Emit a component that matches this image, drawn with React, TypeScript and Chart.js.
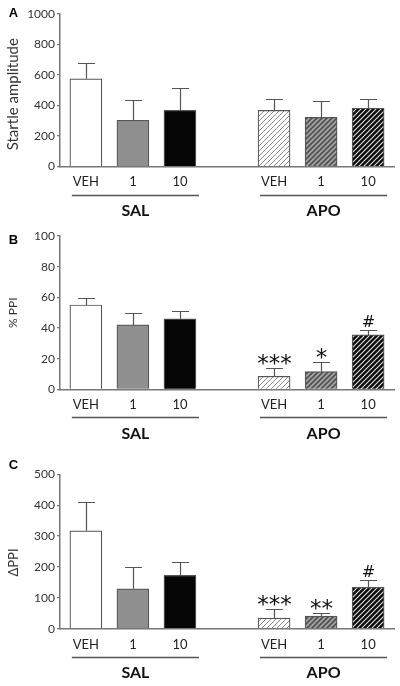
import React, { useEffect, useRef } from "react";
import { Chart, registerables } from "chart.js";

Chart.register(...registerables);

// ---------- data ----------
const categories = ["VEH", "1", "10", "", "VEH", "1", "10"];
const groupNames = ["SAL", "APO"];
const groupMembers = [
  [0, 1, 2],
  [4, 5, 6],
];

const startleMean = [575, 303, 368, null, 368, 322, 382];
const startleSem = [105, 131, 145, null, 72, 106, 58];
const startleMarks = ["", "", "", "", "", "", ""];

const ppiMean = [55, 42, 46, null, 8.5, 11.5, 35.5];
const ppiSem = [4.3, 8, 5.2, null, 5.5, 6.6, 3.1];
const ppiMarks = ["", "", "", "", "***", "*", "#"];

const dppiMean = [317, 129, 173, null, 34, 41, 134];
const dppiSem = [93, 72, 43, null, 31, 10, 24];
const dppiMarks = ["", "", "", "", "***", "**", "#"];

const FONT = "Lato, 'Open Sans', sans-serif";

function hatch(bg: string, fg: string, lw: number) {
  const s = 5;
  const c = document.createElement("canvas");
  c.width = s;
  c.height = s;
  const g = c.getContext("2d")!;
  g.fillStyle = bg;
  g.fillRect(0, 0, s, s);
  g.strokeStyle = fg;
  g.lineWidth = lw;
  g.beginPath();
  g.moveTo(-1, s + 1);
  g.lineTo(s + 1, -1);
  g.moveTo(-1, 1);
  g.lineTo(1, -1);
  g.moveTo(s - 1, s + 1);
  g.lineTo(s + 1, s - 1);
  g.stroke();
  return g.createPattern(c, "repeat");
}

type PanelProps = {
  letter: string;
  letterY: number;
  title: string;
  titleSize: number;
  titleShift: number;
  means: (number | null)[];
  sems: (number | null)[];
  marks: string[];
  yMax: number;
  yStep: number;
  height: number;
  padTop: number;
  axisH: number;
};

function Panel(p: PanelProps) {
  const ref = useRef<HTMLCanvasElement>(null);
  useEffect(() => {
    const fills: any[] = [
      "#ffffff",
      "#8f8f8f",
      "#050505",
      "rgba(0,0,0,0)",
      hatch("#ffffff", "#8a8a8a", 1),
      hatch("#a3a3a3", "#505050", 1.6),
      hatch("#0a0a0a", "#e0e0e0", 1.1),
    ];
    const data = p.means
      .map((v, i) => ({ x: i, y: v }))
      .filter((d) => d.y !== null) as { x: number; y: number }[];

    const decor = {
      id: "decor",
      afterDatasetsDraw(chart: any) {
        const { ctx, scales } = chart;
        const xs = scales.x;
        const ys = scales.y;
        ctx.save();
        p.means.forEach((m, i) => {
          if (m === null) return;
          const px = Math.round(xs.getPixelForValue(i)) + 0.5;
          const top = ys.getPixelForValue(m);
          const e = Math.round(ys.getPixelForValue(m + (p.sems[i] as number))) + 0.5;
          ctx.strokeStyle = "#555";
          ctx.lineWidth = 1.2;
          ctx.beginPath();
          ctx.moveTo(px, top);
          ctx.lineTo(px, e);
          ctx.moveTo(px - 8.5, e);
          ctx.lineTo(px + 8.5, e);
          ctx.stroke();
          const mk = p.marks[i];
          if (mk) {
            ctx.fillStyle = "#111";
            ctx.textAlign = "center";
            ctx.textBaseline = "alphabetic";
            ctx.font = mk.startsWith("*")
              ? "23px 'DejaVu Sans', sans-serif"
              : "16px 'DejaVu Sans', sans-serif";
            const tm = ctx.measureText(mk);
            const gap = 4;
            ctx.fillText(mk, px, e - gap - tm.actualBoundingBoxDescent);
          }
        });
        ctx.restore();
      },
      afterDraw(chart: any) {
        const { ctx, scales, chartArea } = chart;
        const xs = scales.x;
        const axisY = chartArea.bottom;
        ctx.save();
        // group underlines + names
        groupMembers.forEach((mem, gi) => {
          const x0 = xs.getPixelForValue(mem[0]) - 14;
          const x1 = xs.getPixelForValue(mem[mem.length - 1]) + 19;
          const ly = Math.round(axisY + 28) + 0.5;
          ctx.strokeStyle = "#555";
          ctx.lineWidth = 1.5;
          ctx.beginPath();
          ctx.moveTo(x0, ly);
          ctx.lineTo(x1, ly);
          ctx.stroke();
          ctx.fillStyle = "#111";
          ctx.font = `bold 16px ${FONT}`;
          ctx.textAlign = "center";
          ctx.textBaseline = "middle";
          ctx.fillText(groupNames[gi], (x0 + x1) / 2, axisY + 44.5);
        });
        // y title
        ctx.save();
        ctx.translate(13.5, (chartArea.top + chartArea.bottom) / 2 + p.titleShift);
        ctx.rotate(-Math.PI / 2);
        ctx.fillStyle = "#333";
        ctx.font = `${p.titleSize}px ${FONT}`;
        ctx.textAlign = "center";
        ctx.textBaseline = "middle";
        ctx.fillText(p.title, 0, 0);
        ctx.restore();
        // panel letter
        ctx.fillStyle = "#000";
        ctx.font = "bold 13px 'Liberation Sans', Arial, sans-serif";
        ctx.textAlign = "center";
        ctx.textBaseline = "middle";
        ctx.fillText(p.letter, 13.5, p.letterY);
        ctx.restore();
      },
    };

    const chart = new Chart(ref.current as HTMLCanvasElement, {
      type: "bar",
      data: {
        datasets: [
          {
            data: data as any,
            backgroundColor: (c: any) => (c.raw ? fills[c.raw.x] : "#fff"),
            borderColor: "#555",
            borderWidth: 1.2,
            barThickness: 32,
          },
        ],
      },
      options: {
        responsive: false,
        animation: false,
        events: [],
        layout: { padding: { top: p.padTop, right: 6, left: 0, bottom: 0 } },
        plugins: { legend: { display: false }, tooltip: { enabled: false } },
        scales: {
          x: {
            type: "linear",
            min: -0.55,
            max: 6.55,
            offset: false,
            afterBuildTicks: (s: any) => {
              s.ticks = categories.map((_, i) => ({ value: i }));
            },
            afterFit: (s: any) => {
              s.height = p.axisH;
            },
            ticks: {
              callback: (v: any) => categories[v] ?? "",
              autoSkip: false,
              maxRotation: 0,
              font: { family: FONT, size: 13 },
              color: "#222",
              padding: 8,
            },
            grid: { display: false, drawTicks: false },
            border: { display: true, color: "#777", width: 1.5 },
          },
          y: {
            min: 0,
            max: p.yMax,
            ticks: {
              stepSize: p.yStep,
              callback: (v: any) => String(v),
              font: { family: FONT, size: 12 },
              color: "#333",
              padding: 2,
            },
            grid: {
              display: true,
              drawOnChartArea: false,
              drawTicks: true,
              tickLength: 3,
              color: "#777",
              lineWidth: 1.2,
            },
            border: { display: true, color: "#777", width: 1.5 },
            afterFit: (s: any) => {
              s.width = 60;
            },
          },
        },
      } as any,
      plugins: [decor],
    });
    return () => chart.destroy();
  }, []);
  return (
    <canvas
      ref={ref}
      width={400}
      height={p.height}
      style={{ display: "block", width: 400, height: p.height }}
    />
  );
}

export default function App() {
  return (
    <div
      style={{
        position: "absolute",
        left: 0,
        top: 0,
        width: 400,
        height: 686,
        background: "#fff",
      }}
    >
      <Panel
        letter="A"
        letterY={13}
        title="Startle amplitude"
        titleSize={15}
        titleShift={4}
        means={startleMean}
        sems={startleSem}
        marks={startleMarks}
        yMax={1000}
        yStep={200}
        height={225}
        padTop={14}
        axisH={58.5}
      />
      <Panel
        letter="B"
        letterY={15}
        title="% PPI"
        titleSize={12}
        titleShift={0}
        means={ppiMean}
        sems={ppiSem}
        marks={ppiMarks}
        yMax={100}
        yStep={20}
        height={220}
        padTop={11}
        axisH={55.7}
      />
      <Panel
        letter="C"
        letterY={20}
        title="ΔPPI"
        titleSize={13}
        titleShift={11}
        means={dppiMean}
        sems={dppiSem}
        marks={dppiMarks}
        yMax={500}
        yStep={100}
        height={241}
        padTop={29.3}
        axisH={57.3}
      />
    </div>
  );
}
